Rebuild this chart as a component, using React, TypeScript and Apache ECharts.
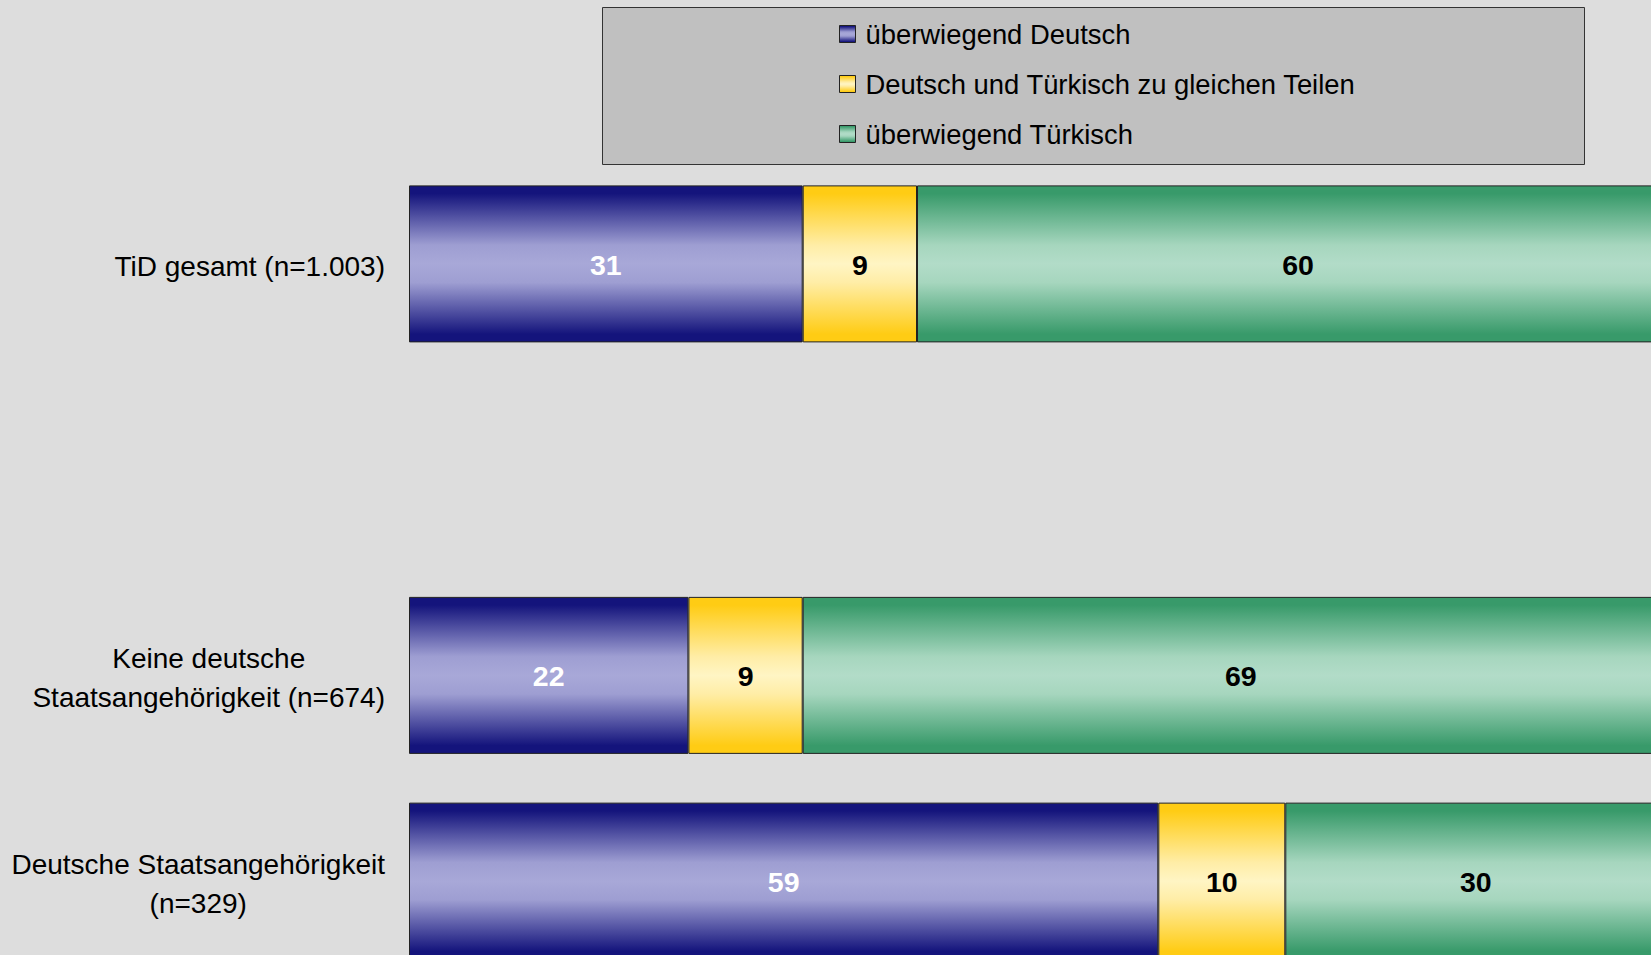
import React, { useEffect, useRef } from "react";
import * as echarts from "echarts";

const categories = [
  "TiD gesamt (n=1.003)",
  "",
  "Keine deutsche\nStaatsangehörigkeit (n=674)",
  "Deutsche Staatsangehörigkeit\n(n=329)",
];
const seriesNames = [
  "überwiegend Deutsch",
  "Deutsch und Türkisch zu gleichen Teilen",
  "überwiegend Türkisch",
];
const deutsch = [31, null, 22, 59];
const gleich = [9, null, 9, 10];
const tuerkisch = [60, null, 69, 30];

const FONT = "'Liberation Sans', Arial, sans-serif";

function grad(edge: string, mid1: string, mid: string) {
  return new echarts.graphic.LinearGradient(0, 0, 0, 1, [
    { offset: 0, color: edge },
    { offset: 0.05, color: edge },
    { offset: 0.38, color: mid1 },
    { offset: 0.5, color: mid },
    { offset: 0.62, color: mid1 },
    { offset: 0.95, color: edge },
    { offset: 1, color: edge },
  ]);
}

export default function App() {
  const ref = useRef<HTMLDivElement>(null);
  useEffect(() => {
    if (!ref.current) return;
    const chart = echarts.init(ref.current, undefined, { renderer: "svg" });
    const colors = [
      grad("#14147c", "#9e9ed2", "#a8a8d8"),
      grad("#ffcc14", "#ffeda6", "#fff5c4"),
      grad("#389a6a", "#a6d6be", "#b2dcc8"),
    ];
    const labelColors = ["#ffffff", "#000000", "#000000"];
    const datasets = [deutsch, gleich, tuerkisch];
    chart.setOption({
      animation: false,
      backgroundColor: "#dddddd",
      graphic: [
        {
          type: "rect",
          z: -1,
          shape: { x: 602.5, y: 7.5, width: 982, height: 157 },
          style: { fill: "#c0c0c0", stroke: "#333333", lineWidth: 1 },
        },
      ],
      legend: {
        orient: "vertical",
        left: 839,
        top: 20,
        padding: 0,
        itemWidth: 16,
        itemHeight: 17,
        itemGap: 22,
        icon: "rect",
        itemStyle: { borderColor: "#222222", borderWidth: 1 },
        textStyle: {
          fontFamily: FONT,
          fontSize: 27.4,
          color: "#000000",
          lineHeight: 28,
          padding: [0, 0, 0, 5],
        },
        data: seriesNames,
      },
      grid: { left: 409, right: 21, top: 161, bottom: 16, containLabel: false },
      xAxis: { type: "value", min: 0, max: 100, show: false },
      yAxis: {
        type: "category",
        inverse: true,
        data: categories,
        axisLine: { show: false },
        axisTick: { show: false },
        splitLine: { show: false },
        axisLabel: {
          margin: 24,
          padding: [5, 0, 0, 0],
          formatter: (v: string) =>
            v
              ? v
                  .split("\n")
                  .map((l) => `{c|${l}}`)
                  .join("\n")
              : "",
          rich: {
            c: {
              fontFamily: FONT,
              fontSize: 28,
              lineHeight: 39,
              align: "center",
              color: "#000000",
            },
          },
        },
      },
      series: seriesNames.map((name, i) => ({
        name,
        type: "bar",
        stack: "total",
        barWidth: 157,
        data: datasets[i],
        itemStyle: { color: colors[i], borderColor: "#222222", borderWidth: 1 },
        label: {
          show: true,
          position: "inside",
          offset: [0, 1],
          formatter: "{c}",
          fontFamily: FONT,
          fontSize: 28.5,
          fontWeight: "bold",
          color: labelColors[i],
        },
      })),
    });
    return () => chart.dispose();
  }, []);
  return (
    <div
      style={{
        position: "fixed",
        left: 0,
        top: 0,
        width: 1651,
        height: 955,
        overflow: "hidden",
        background: "#dddddd",
      }}
    >
      <div ref={ref} style={{ width: 1700, height: 1000 }} />
    </div>
  );
}
